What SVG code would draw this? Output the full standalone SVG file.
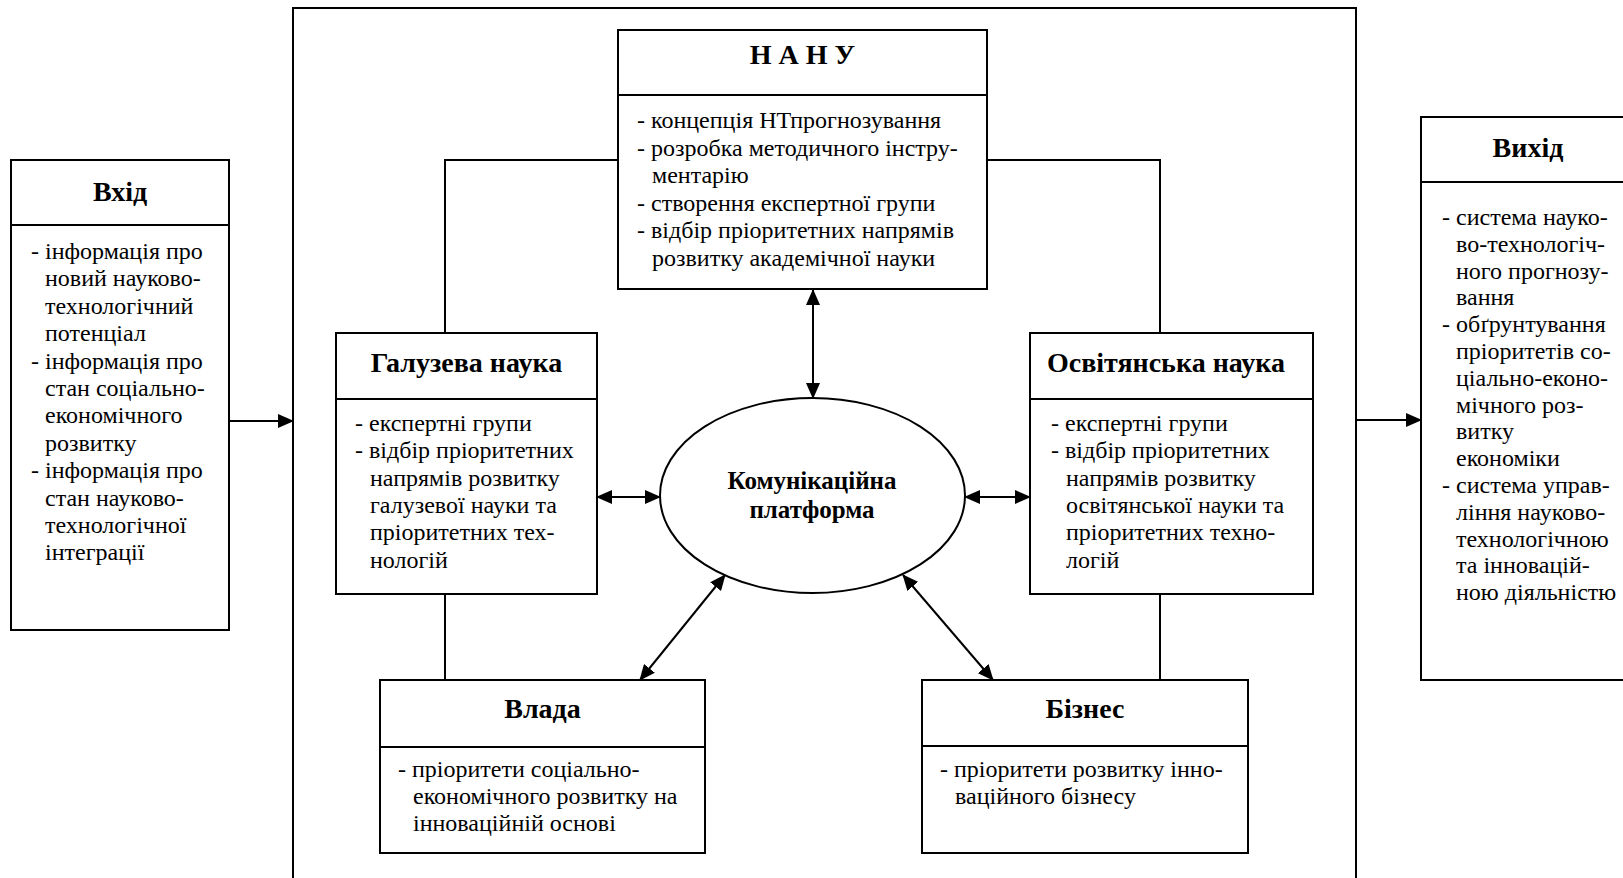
<svg xmlns="http://www.w3.org/2000/svg" width="1623" height="878" viewBox="0 0 1623 878">
<style>
.box{fill:#fff;stroke:#000;stroke-width:2}
.ln{fill:none;stroke:#000;stroke-width:2}
.hd{font-family:"Liberation Serif","Times New Roman",serif;font-weight:bold;font-size:28px;text-anchor:middle;fill:#000}
.bd{font-family:"Liberation Serif","Times New Roman",serif;font-size:24px;fill:#000}
.el{font-family:"Liberation Serif","Times New Roman",serif;font-weight:bold;font-size:25px;text-anchor:middle;fill:#000}
.arr{fill:none;stroke:#000;stroke-width:2;marker-end:url(#ah)}
.darr{fill:none;stroke:#000;stroke-width:2;marker-start:url(#ah);marker-end:url(#ah)}
</style>
<defs>
<marker id="ah" markerUnits="userSpaceOnUse" markerWidth="16" markerHeight="14" viewBox="0 0 16 14" refX="15" refY="7" orient="auto-start-reverse">
<path d="M0,0 L16,7 L0,14 z" fill="#000"/>
</marker>
</defs>
<rect width="1623" height="878" fill="#fff"/>

<g id="outer">
<rect class="box" x="293" y="8" width="1063" height="900"/>
</g>

<g id="connectors">
<polyline class="ln" points="618,160 445,160 445,333"/>
<polyline class="ln" points="987,160 1160,160 1160,333"/>
<line class="ln" x1="445" y1="594" x2="445" y2="680"/>
<line class="ln" x1="1160" y1="594" x2="1160" y2="680"/>
<line class="darr" x1="813" y1="290" x2="813" y2="398"/>
<line class="darr" x1="597" y1="497" x2="660" y2="497"/>
<line class="darr" x1="965" y1="497" x2="1030" y2="497"/>
<line class="darr" x1="640" y1="680" x2="725" y2="575"/>
<line class="darr" x1="993" y1="680" x2="903" y2="575"/>
<line class="arr" x1="229" y1="421" x2="293" y2="421"/>
<line class="arr" x1="1356" y1="420" x2="1421" y2="420"/>
</g>

<g id="vkhid">
<rect class="box" x="11" y="160" width="218" height="470"/>
<line class="ln" x1="11" y1="225" x2="229" y2="225"/>
<text class="hd" x="120" y="201">Вхід</text>
<text class="bd">
<tspan x="31" y="259">- інформація про</tspan>
<tspan x="45" y="286.4">новий науково-</tspan>
<tspan x="45" y="313.8">технологічний</tspan>
<tspan x="45" y="341.2">потенціал</tspan>
<tspan x="31" y="368.6">- інформація про</tspan>
<tspan x="45" y="396">стан соціально-</tspan>
<tspan x="45" y="423.4">економічного</tspan>
<tspan x="45" y="450.8">розвитку</tspan>
<tspan x="31" y="478.2">- інформація про</tspan>
<tspan x="45" y="505.6">стан науково-</tspan>
<tspan x="45" y="533">технологічної</tspan>
<tspan x="45" y="560.4">інтеграції</tspan>
</text>
</g>

<g id="nanu">
<rect class="box" x="618" y="30" width="369" height="259"/>
<line class="ln" x1="618" y1="95" x2="987" y2="95"/>
<text class="hd" x="802.5" y="64">Н А Н У</text>
<text class="bd">
<tspan x="637" y="128">- концепція НТпрогнозування</tspan>
<tspan x="637" y="155.5">- розробка методичного інстру-</tspan>
<tspan x="652" y="183">ментарію</tspan>
<tspan x="637" y="210.5">- створення експертної групи</tspan>
<tspan x="637" y="238">- відбір пріоритетних напрямів</tspan>
<tspan x="652" y="265.5">розвитку академічної науки</tspan>
</text>
</g>

<g id="galuzeva">
<rect class="box" x="336" y="333" width="261" height="261"/>
<line class="ln" x1="336" y1="399" x2="597" y2="399"/>
<text class="hd" x="466.5" y="372">Галузева наука</text>
<text class="bd">
<tspan x="355" y="431">- експертні групи</tspan>
<tspan x="355" y="458.3">- відбір пріоритетних</tspan>
<tspan x="370" y="485.6">напрямів розвитку</tspan>
<tspan x="370" y="512.9">галузевої науки та</tspan>
<tspan x="370" y="540.2">пріоритетних тех-</tspan>
<tspan x="370" y="567.5">нологій</tspan>
</text>
</g>

<g id="osvitianska">
<rect class="box" x="1030" y="333" width="283" height="261"/>
<line class="ln" x1="1030" y1="399" x2="1313" y2="399"/>
<text class="hd" x="1166" y="372">Освітянська наука</text>
<text class="bd">
<tspan x="1051" y="431">- експертні групи</tspan>
<tspan x="1051" y="458.3">- відбір пріоритетних</tspan>
<tspan x="1066" y="485.6">напрямів розвитку</tspan>
<tspan x="1066" y="512.9">освітянської науки та</tspan>
<tspan x="1066" y="540.2">пріоритетних техно-</tspan>
<tspan x="1066" y="567.5">логій</tspan>
</text>
</g>

<g id="platforma">
<ellipse class="box" cx="812.5" cy="495.5" rx="152.5" ry="97.5"/>
<text class="el" x="812" y="489">Комунікаційна</text>
<text class="el" x="812" y="518">платформа</text>
</g>

<g id="vlada">
<rect class="box" x="380" y="680" width="325" height="173"/>
<line class="ln" x1="380" y1="747" x2="705" y2="747"/>
<text class="hd" x="542.5" y="718">Влада</text>
<text class="bd">
<tspan x="398" y="777">- пріоритети соціально-</tspan>
<tspan x="413" y="804">економічного розвитку на</tspan>
<tspan x="413" y="831">інноваційній основі</tspan>
</text>
</g>

<g id="biznes">
<rect class="box" x="922" y="680" width="326" height="173"/>
<line class="ln" x1="922" y1="746" x2="1248" y2="746"/>
<text class="hd" x="1085" y="718">Бізнес</text>
<text class="bd">
<tspan x="940" y="777">- пріоритети розвитку інно-</tspan>
<tspan x="955" y="804">ваційного бізнесу</tspan>
</text>
</g>

<g id="vykhid">
<rect class="box" x="1421" y="117" width="220" height="563"/>
<line class="ln" x1="1421" y1="182" x2="1641" y2="182"/>
<text class="hd" x="1528" y="157">Вихід</text>
<text class="bd">
<tspan x="1442" y="225">- система науко-</tspan>
<tspan x="1456" y="251.8">во-технологіч-</tspan>
<tspan x="1456" y="278.6">ного прогнозу-</tspan>
<tspan x="1456" y="305.4">вання</tspan>
<tspan x="1442" y="332.2">- обґрунтування</tspan>
<tspan x="1456" y="359">пріоритетів со-</tspan>
<tspan x="1456" y="385.8">ціально-еконо-</tspan>
<tspan x="1456" y="412.6">мічного роз-</tspan>
<tspan x="1456" y="439.4">витку</tspan>
<tspan x="1456" y="466.2">економіки</tspan>
<tspan x="1442" y="493">- система управ-</tspan>
<tspan x="1456" y="519.8">ління науково-</tspan>
<tspan x="1456" y="546.6">технологічною</tspan>
<tspan x="1456" y="573.4">та інновацій-</tspan>
<tspan x="1456" y="600.2">ною діяльністю</tspan>
</text>
</g>
</svg>
